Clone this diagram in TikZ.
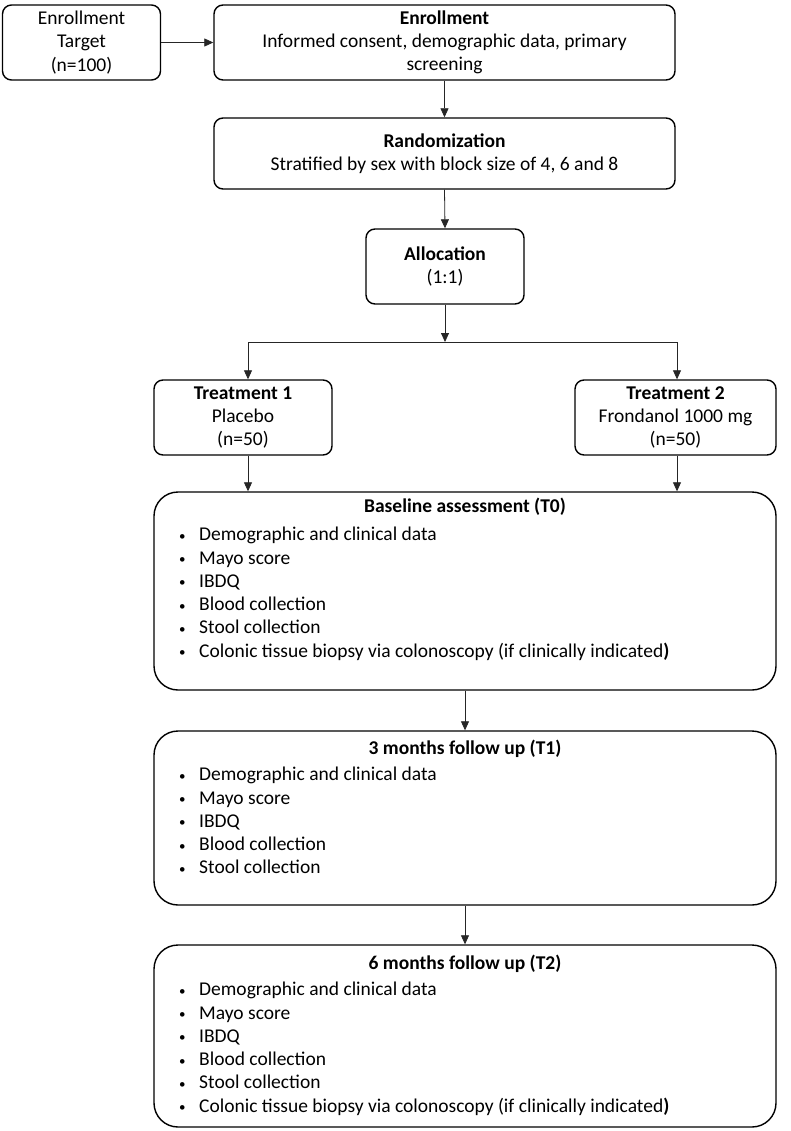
\documentclass[tikz,border=0pt]{standalone}
\usepackage{fontspec}
\setmainfont{Carlito}
\usetikzlibrary{arrows.meta}
\newcommand\myfs{\fontsize{19.5}{23.3}\selectfont}
\newcommand\bl{\makebox[27pt][l]{\hspace{7pt}\raisebox{0.5pt}{\fontsize{13}{13}\selectfont •}}}
\begin{document}
\begin{tikzpicture}[x=1pt,y=-1pt,
  box/.style={draw=black, line width=1.4pt, rounded corners=9pt, align=center, inner sep=0pt, font=\myfs},
  bigbox/.style={draw=black, line width=1.4pt, rounded corners=24pt, inner sep=0pt},
  ttl/.style={font=\myfs\bfseries, inner sep=0pt},
  lst/.style={font=\myfs, align=left, inner sep=0pt, anchor=north west},
  arr/.style={-{Triangle[length=9pt,width=8pt]}, line width=0.8pt, draw=black!85},
  ln/.style={line width=0.8pt, draw=black!85}]
\useasboundingbox (0,0) rectangle (790,1131);
\fill[white] (0,0) rectangle (790,1131);

\node[box, minimum width=158pt, minimum height=75pt] (target) at (81.5,42.5) {Enrollment\\Target\\(n=100)};
\node[box, minimum width=461pt, minimum height=75pt] (enroll) at (444.5,42.5) {\textbf{Enrollment}\\Informed consent, demographic data, primary\\screening};
\node[box, minimum width=461pt, minimum height=71pt] (rand) at (444.5,153.5) {\textbf{Randomization}\\Stratified by sex with block size of 4, 6 and 8};
\node[box, minimum width=158pt, minimum height=75pt] (alloc) at (445,266.5) {\textbf{Allocation}\\(1:1)};
\node[box, minimum width=178pt, minimum height=75pt] (tr1) at (243,417.5) {\textbf{Treatment 1}\\Placebo\\(n=50)};
\node[box, minimum width=201pt, minimum height=75pt] (tr2) at (675.5,417.5) {\textbf{Treatment 2}\\Frondanol 1000 mg\\(n=50)};

\node[bigbox, minimum width=622pt, minimum height=198pt] (base) at (465,591) {};
\node[ttl] (baset) at (465,507) {Baseline assessment (T0)};
\node[lst] (basel) at (172,527) {\bl Demographic and clinical data\\\bl Mayo score\\\bl IBDQ\\\bl Blood collection\\\bl Stool collection\\\bl Colonic tissue biopsy via colonoscopy (if clinically indicated\textbf{)}};

\node[bigbox, minimum width=622pt, minimum height=174pt] (fu1) at (465,818) {};
\node[ttl] (fu1t) at (465,749) {3 months follow up (T1)};
\node[lst] (fu1l) at (172,767) {\bl Demographic and clinical data\\\bl Mayo score\\\bl IBDQ\\\bl Blood collection\\\bl Stool collection};

\node[bigbox, minimum width=622pt, minimum height=182pt] (fu2) at (465,1036) {};
\node[ttl] (fu2t) at (465,964) {6 months follow up (T2)};
\node[lst] (fu2l) at (172,982) {\bl Demographic and clinical data\\\bl Mayo score\\\bl IBDQ\\\bl Blood collection\\\bl Stool collection\\\bl Colonic tissue biopsy via colonoscopy (if clinically indicated\textbf{)}};

\coordinate (split) at (445,342);
\coordinate (sl) at (248,342);
\coordinate (sr) at (677,342);

\draw[arr] (target.east) -- (enroll.west);
\draw[arr] (enroll.south) -- (rand.north);
\draw[arr] (rand.south) -- (alloc.north);
\draw[arr] (alloc.south) -- (split);
\draw[ln] (sl) -- (sr);
\draw[arr] (sl) -- (sl |- tr1.north);
\draw[arr] (sr) -- (sr |- tr2.north);
\draw[arr] (sl |- tr1.south) -- (sl |- base.north);
\draw[arr] (sr |- tr2.south) -- (sr |- base.north);
\draw[arr] (base.south) -- (fu1.north);
\draw[arr] (fu1.south) -- (fu2.north);
\end{tikzpicture}
\end{document}
